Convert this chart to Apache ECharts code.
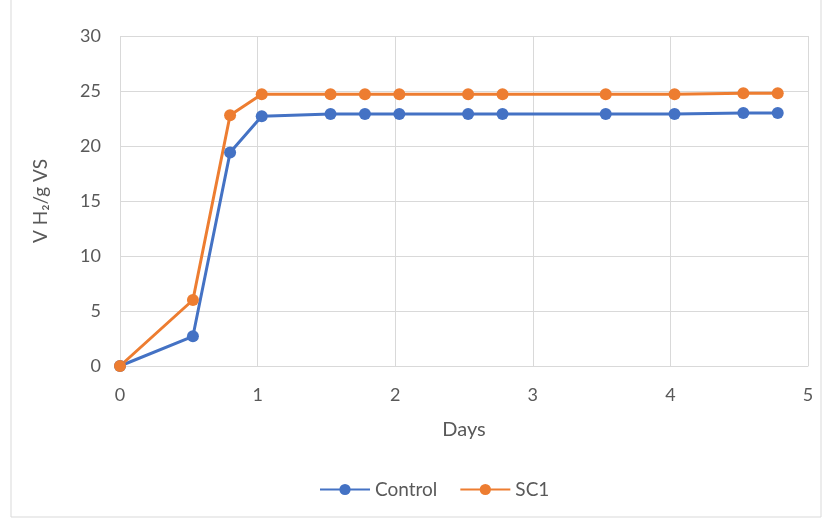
<!DOCTYPE html>
<html>
<head>
<meta charset="utf-8">
<script src="https://cdn.jsdelivr.net/npm/echarts@6/dist/echarts.min.js"></script>
<style>
  html, body { margin: 0; padding: 0; background: #fff; }
  #main { width: 830px; height: 522px; }
</style>
</head>
<body>
<div id="main"></div>
<script>
// days of sampling
let days = [0, 0.53, 0.8, 1.03, 1.53, 1.78, 2.03, 2.53, 2.78, 3.53, 4.03, 4.53, 4.78];
let control = [0, 2.7, 19.4, 22.7, 22.9, 22.9, 22.9, 22.9, 22.9, 22.9, 22.9, 23.0, 23.0];
let sc1 = [0, 6.0, 22.8, 24.7, 24.7, 24.7, 24.7, 24.7, 24.7, 24.7, 24.7, 24.8, 24.8];
let names = ["Control", "SC1"];
let colors = ["#4472C4", "#ED7D31"];

let font = "Lato, 'Open Sans', sans-serif";
let pairs = (ys) => days.map((x, i) => [x, ys[i]]);

let chart = echarts.init(document.getElementById("main"));

chart.setOption({
  animation: false,
  textStyle: { fontFamily: font },
  graphic: [{
    type: "rect",
    shape: { x: 11, y: -2, width: 810, height: 519 },
    style: { fill: "none", stroke: "#d9d9d9", lineWidth: 1 }
  }],
  grid: { left: 120, right: 22, top: 36, bottom: 156 },
  legend: {
    bottom: 18,
    left: 314,
    itemWidth: 50,
    itemHeight: 14,
    itemGap: 22,
    textStyle: { fontSize: 19, color: "#595959", fontFamily: font },
    data: names
  },
  xAxis: {
    type: "value",
    min: 0, max: 5, interval: 1,
    name: "Days",
    nameLocation: "middle",
    nameGap: 54,
    nameTextStyle: { fontSize: 20, color: "#595959" },
    axisLine: { show: true, lineStyle: { color: "#d9d9d9" } },
    axisTick: { show: false },
    axisLabel: { fontSize: 18, color: "#595959", margin: 20 },
    splitLine: { show: true, lineStyle: { color: "#d9d9d9", width: 1 } }
  },
  yAxis: {
    type: "value",
    min: 0, max: 30, interval: 5,
    name: "V H\u2082/g VS",
    nameLocation: "middle",
    nameGap: 70,
    nameTextStyle: { fontSize: 19, color: "#595959" },
    axisLine: { show: false },
    axisTick: { show: false },
    axisLabel: { fontSize: 18, color: "#595959", margin: 19 },
    splitLine: { lineStyle: { color: "#d9d9d9", width: 1 } }
  },
  series: [
    {
      name: names[0],
      type: "line",
      data: pairs(control),
      symbol: "circle",
      symbolSize: 12,
      color: colors[0],
      lineStyle: { width: 3 }
    },
    {
      name: names[1],
      type: "line",
      data: pairs(sc1),
      symbol: "circle",
      symbolSize: 12,
      color: colors[1],
      lineStyle: { width: 3 }
    }
  ]
});
</script>
</body>
</html>
